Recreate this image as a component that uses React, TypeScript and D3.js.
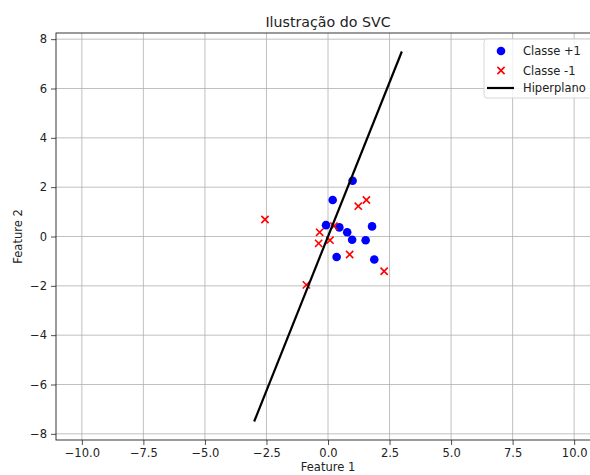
import React, { useEffect, useRef } from 'react';
import * as d3 from 'd3';

// Classe +1 points
const posX = [1.0, 0.19, -0.08, 0.46, 0.78, 0.98, 1.79, 1.53, 0.35, 1.88];
const posY = [2.26, 1.48, 0.46, 0.37, 0.17, -0.13, 0.41, -0.15, -0.83, -0.93];

// Classe -1 points
const negX = [-2.56, 1.23, 1.56, 0.24, -0.34, -0.38, 0.08, 0.88, 2.28, -0.88];
const negY = [0.69, 1.23, 1.48, 0.42, 0.17, -0.28, -0.15, -0.73, -1.41, -1.96];

// hyperplane endpoints
const lineX = [-3, 3];
const lineY = [-7.5, 7.5];

const xTicks = [-10, -7.5, -5, -2.5, 0, 2.5, 5, 7.5, 10];
const yTicks = [-8, -6, -4, -2, 0, 2, 4, 6, 8];

const legendLabels = ['Classe +1', 'Classe -1', 'Hiperplano'];

const w = 590;
const h = 475;
const left = 56;
const right = 600;
const top = 33;
const bottom = 440;

const font = 'DejaVu Sans, sans-serif';

const App = () => {
  const svgRef = useRef(null);

  useEffect(() => {
    const svg = d3.select(svgRef.current);
    svg.selectAll('*').remove();

    const xScale = d3.scaleLinear().domain([-11.05, 11.05]).range([left, right]);
    const yScale = d3.scaleLinear().domain([-8.25, 8.25]).range([bottom, top]);

    const fmt = (d) => d3.format('.1f')(d).replace('-', '\u2212');
    const fmtY = (d) => String(d).replace('-', '\u2212');

    // grid
    const grid = svg.append('g');
    grid.selectAll('.gx')
      .data(xTicks)
      .enter()
      .append('line')
      .attr('x1', (d) => xScale(d))
      .attr('x2', (d) => xScale(d))
      .attr('y1', top)
      .attr('y2', bottom)
      .attr('stroke', '#b0b0b0')
      .attr('stroke-width', 0.8);
    grid.selectAll('.gy')
      .data(yTicks)
      .enter()
      .append('line')
      .attr('x1', left)
      .attr('x2', right)
      .attr('y1', (d) => yScale(d))
      .attr('y2', (d) => yScale(d))
      .attr('stroke', '#b0b0b0')
      .attr('stroke-width', 0.8);

    // axes
    const xAxis = d3.axisBottom(xScale).tickValues(xTicks).tickFormat(fmt).tickSize(5).tickPadding(4);
    const yAxis = d3.axisLeft(yScale).tickValues(yTicks).tickFormat(fmtY).tickSize(5).tickPadding(4);

    const gx = svg.append('g')
      .attr('transform', 'translate(0,' + bottom + ')')
      .call(xAxis);
    const gy = svg.append('g')
      .attr('transform', 'translate(' + left + ',0)')
      .call(yAxis);

    [gx, gy].forEach((g) => {
      g.select('.domain').remove();
      g.selectAll('text')
        .attr('font-family', font)
        .attr('font-size', 11.5)
        .attr('fill', '#222');
      g.selectAll('line').attr('stroke', '#222').attr('stroke-width', 0.8);
    });

    // frame
    svg.append('rect')
      .attr('x', left)
      .attr('y', top)
      .attr('width', right - left)
      .attr('height', bottom - top)
      .attr('fill', 'none')
      .attr('stroke', '#222')
      .attr('stroke-width', 0.9);

    // points
    const pos = posX.map((x, i) => ({ x, y: posY[i] }));
    const neg = negX.map((x, i) => ({ x, y: negY[i] }));

    svg.append('g')
      .selectAll('circle')
      .data(pos)
      .enter()
      .append('circle')
      .attr('cx', (d) => xScale(d.x))
      .attr('cy', (d) => yScale(d.y))
      .attr('r', 4.3)
      .attr('fill', '#0000ff');

    const cross = (d) => {
      const cx = xScale(d.x);
      const cy = yScale(d.y);
      const s = 3.6;
      return `M${cx - s},${cy - s}L${cx + s},${cy + s}M${cx - s},${cy + s}L${cx + s},${cy - s}`;
    };
    svg.append('g')
      .selectAll('path')
      .data(neg)
      .enter()
      .append('path')
      .attr('d', cross)
      .attr('stroke', '#ff0000')
      .attr('stroke-width', 1.6)
      .attr('fill', 'none');

    // hyperplane
    const line = d3.line()
      .x((d) => xScale(d[0]))
      .y((d) => yScale(d[1]));
    svg.append('path')
      .datum(lineX.map((x, i) => [x, lineY[i]]))
      .attr('d', line)
      .attr('fill', 'none')
      .attr('stroke', '#000')
      .attr('stroke-width', 2.2);

    // title and labels
    svg.append('text')
      .attr('x', (left + right) / 2)
      .attr('y', 27)
      .attr('text-anchor', 'middle')
      .attr('font-family', font)
      .attr('font-size', 14.2)
      .attr('fill', '#222')
      .text('Ilustração do SVC');

    svg.append('text')
      .attr('x', (left + right) / 2)
      .attr('y', 471)
      .attr('text-anchor', 'middle')
      .attr('font-family', font)
      .attr('font-size', 11.5)
      .attr('fill', '#222')
      .text('Feature 1');

    svg.append('text')
      .attr('transform', 'translate(22,' + (top + bottom) / 2 + ') rotate(-90)')
      .attr('text-anchor', 'middle')
      .attr('font-family', font)
      .attr('font-size', 11.5)
      .attr('fill', '#222')
      .text('Feature 2');

    // legend
    const lg = svg.append('g');
    lg.append('rect')
      .attr('x', 484)
      .attr('y', 39)
      .attr('width', 120)
      .attr('height', 59)
      .attr('rx', 3)
      .attr('fill', 'white')
      .attr('fill-opacity', 0.8)
      .attr('stroke', '#cccccc')
      .attr('stroke-width', 0.8);

    const rowY = [51, 70.5, 88];
    lg.append('circle').attr('cx', 501).attr('cy', rowY[0]).attr('r', 4.3).attr('fill', '#0000ff');
    lg.append('path')
      .attr('d', cross({ x: xScale.invert(501), y: yScale.invert(rowY[1]) }))
      .attr('stroke', '#ff0000')
      .attr('stroke-width', 1.6);
    lg.append('line')
      .attr('x1', 487).attr('x2', 514)
      .attr('y1', rowY[2]).attr('y2', rowY[2])
      .attr('stroke', '#000')
      .attr('stroke-width', 2.2);

    lg.selectAll('text')
      .data(legendLabels)
      .enter()
      .append('text')
      .attr('x', 523)
      .attr('y', (d, i) => rowY[i] + 4)
      .attr('font-family', font)
      .attr('font-size', 11.5)
      .attr('fill', '#222')
      .text((d) => d);
  }, []);

  return (
    <div style={{ position: 'absolute', left: 0, top: 0 }}>
      <svg ref={svgRef} width={w} height={h} style={{ display: 'block', background: 'white' }}></svg>
    </div>
  );
};

export default App;
